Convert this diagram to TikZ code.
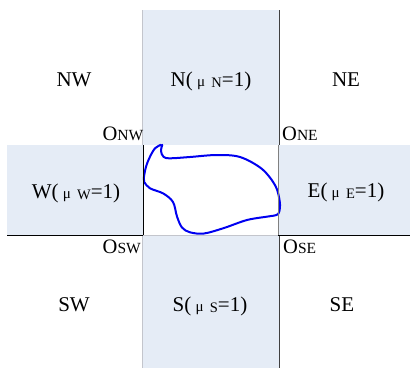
\documentclass[tikz,border=0pt]{standalone}
\usepackage{fontspec}
\setmainfont{Liberation Serif}
\definecolor{bandblue}{RGB}{229,236,246}
\definecolor{lightline}{RGB}{195,197,204}
\definecolor{darkline}{RGB}{64,64,64}
\definecolor{midline}{RGB}{128,128,128}
\definecolor{curveblue}{RGB}{0,0,240}
\newcommand\mulbl[2]{#1(\hspace{0.2em}{\fontsize{15}{15}\selectfont μ}\hspace{0.3em}\raisebox{-1.5pt}{\fontsize{14.5}{15}\selectfont #2}=1)}
\newcommand\olbl[1]{O{\fontsize{15.5}{16}\selectfont #1}}
\tikzset{
  band/.style={fill=bandblue, draw=none},
  lbl/.style={anchor=base, inner sep=0pt, font=\fontsize{21}{24}\selectfont},
  olabel/.style={inner sep=0pt, font=\fontsize{20.5}{24}\selectfont},
  thinline/.style={line width=1pt},
}
\begin{document}
\begin{tikzpicture}[x=1pt,y=-1pt]
\useasboundingbox (0,0) rectangle (410,368);
% bands
\fill[band] (142.5,10) rectangle (279,145);
\fill[band] (142.5,235) rectangle (279,368);
\fill[band] (7,145) rectangle (143,235);
\fill[band] (278,145) rectangle (410,235);
% curve
\draw[curveblue, line width=2pt, line join=round, line cap=round]
  plot[smooth, tension=0.55] coordinates {
  (162.3,144.8) (161,151) (163.5,156.8) (170,158.3) (190,157) (216.7,155) (240,157)
  (262,169) (275.5,186) (279.8,202) (279.3,211.5) (276.5,215) (268,216.5) (247,220)
  (224,228) (204,233.5) (190,232.3) (182,227.5) (177,216.5) (173,202) (163.3,193.5)
  (150,188.3) (144.2,182) (143.8,178) (146,166.7) (150,156.7) (155,148.3) (160.8,144.8)};
% lines
\draw[thinline, lightline] (142.5,10) -- (142.5,145);
\draw[thinline, black] (143,145) -- (143,235);
\draw[thinline, lightline] (142.5,235) -- (142.5,368);
\draw[thinline, darkline] (279,10) -- (279,145);
\draw[thinline, midline] (278,145) -- (278,235);
\draw[thinline, darkline] (279,235) -- (279,368);
\draw[thinline, black] (7,235) -- (143,235);
\draw[thinline, lightline] (143,235) -- (278,235);
\draw[thinline, black] (278,235) -- (410,235);
% region labels
\node[lbl] (nw) at (74,86) {NW};
\node[lbl] (n) at (211,86) {\mulbl{N}{N}};
\node[lbl] (ne) at (346,86) {NE};
\node[lbl] (w) at (76,198) {\mulbl{W}{W}};
\node[lbl] (e) at (346,197) {\mulbl{E}{E}};
\node[lbl] (sw) at (74,311) {SW};
\node[lbl] (s) at (210,311) {\mulbl{S}{S}};
\node[lbl] (se) at (342,311) {SE};
% corner labels
\node[olabel, anchor=base east] (onw) at (143.5,140.7) {\olbl{NW}};
\node[olabel, anchor=base west] (one) at (282,140.5) {\olbl{NE}};
\node[olabel, anchor=base east] (osw) at (141,253) {\olbl{SW}};
\node[olabel, anchor=base west] (ose) at (283,253.5) {\olbl{SE}};
\end{tikzpicture}
\end{document}
